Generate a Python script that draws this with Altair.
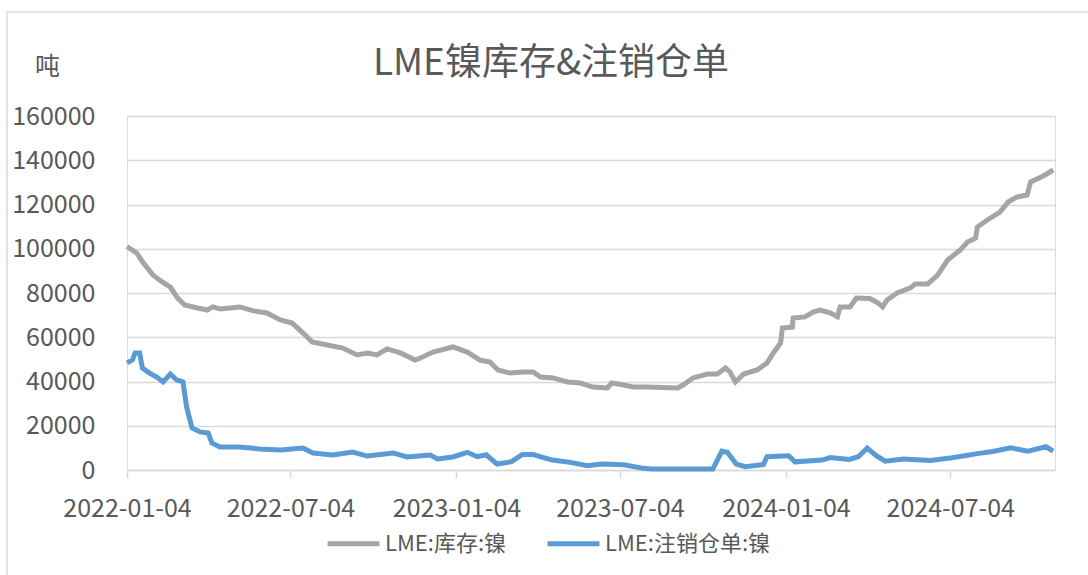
import altair as alt
import pandas as pd

# ---- data ----
stock_dates = [
    "2022-01-04", "2022-01-15", "2022-01-22", "2022-02-02", "2022-02-12", "2022-02-21",
    "2022-03-01", "2022-03-09", "2022-03-23", "2022-04-03", "2022-04-09", "2022-04-17",
    "2022-05-09", "2022-05-24", "2022-06-08", "2022-06-23", "2022-07-06", "2022-07-18",
    "2022-07-28", "2022-08-14", "2022-08-31", "2022-09-16", "2022-09-27", "2022-10-08",
    "2022-10-19", "2022-11-03", "2022-11-19", "2022-11-25", "2022-12-09", "2022-12-31",
    "2023-01-16", "2023-01-30", "2023-02-10", "2023-02-19", "2023-03-04", "2023-03-19",
    "2023-03-30", "2023-04-07", "2023-04-21", "2023-05-07", "2023-05-21", "2023-06-04",
    "2023-06-20", "2023-06-25", "2023-07-08", "2023-07-19", "2023-08-03", "2023-09-06",
    "2023-09-12", "2023-09-23", "2023-10-09", "2023-10-20", "2023-10-29", "2023-11-03",
    "2023-11-09", "2023-11-18", "2023-12-03", "2023-12-14", "2023-12-21", "2023-12-29",
    "2023-12-31", "2024-01-11", "2024-01-12", "2024-01-25", "2024-02-03", "2024-02-11",
    "2024-02-22", "2024-03-01", "2024-03-04", "2024-03-15", "2024-03-22", "2024-04-06",
    "2024-04-15", "2024-04-20", "2024-04-25", "2024-05-06", "2024-05-21", "2024-05-26",
    "2024-06-09", "2024-06-20", "2024-07-01", "2024-07-15", "2024-07-23", "2024-08-01",
    "2024-08-03", "2024-08-14", "2024-08-28", "2024-09-06", "2024-09-16", "2024-09-27",
    "2024-10-01", "2024-10-15", "2024-10-26",
]
stock_values = [
    101000, 98000, 93600, 88000, 85000, 82700,
    77700, 74600, 73200, 72300, 73700, 72800,
    73700, 71900, 71000, 67800, 66400, 61900,
    57900, 56500, 55100, 52000, 52900, 52000,
    54700, 52900, 49700, 50600, 53300, 55600,
    53300, 49700, 48800, 45200, 43800, 44300,
    44300, 42000, 41600, 39800, 39300, 37500,
    37100, 39300, 38400, 37500, 37500, 37100,
    38400, 41600, 43400, 43400, 46100, 44300,
    39800, 43400, 45200, 48400, 52900, 57400,
    64200, 64600, 68700, 69200, 71400, 72300,
    71000, 69200, 73700, 73700, 77700, 77500,
    75500, 73700, 76800, 80000, 82300, 84100,
    84100, 88100, 94900, 99400, 103000, 104800,
    109800, 113000, 116600, 121100, 123400, 124300,
    130200, 132900, 135600,
]

cancel_dates = [
    "2022-01-04", "2022-01-10", "2022-01-13", "2022-01-18", "2022-01-21", "2022-01-29",
    "2022-02-06", "2022-02-13", "2022-02-21", "2022-02-28", "2022-03-07", "2022-03-11",
    "2022-03-17", "2022-03-26", "2022-04-04", "2022-04-08", "2022-04-17", "2022-05-09",
    "2022-05-31", "2022-06-23", "2022-07-18", "2022-07-29", "2022-08-20", "2022-09-11",
    "2022-09-27", "2022-10-26", "2022-11-10", "2022-12-06", "2022-12-14", "2022-12-31",
    "2023-01-16", "2023-01-27", "2023-02-06", "2023-02-18", "2023-03-06", "2023-03-18",
    "2023-03-30", "2023-04-20", "2023-05-10", "2023-05-29", "2023-06-13", "2023-07-08",
    "2023-07-28", "2023-08-08", "2023-10-15", "2023-10-25", "2023-10-31", "2023-11-10",
    "2023-11-20", "2023-12-10", "2023-12-14", "2024-01-07", "2024-01-14", "2024-02-13",
    "2024-02-22", "2024-03-14", "2024-03-24", "2024-04-03", "2024-04-13", "2024-04-23",
    "2024-05-13", "2024-06-12", "2024-07-06", "2024-08-05", "2024-08-20", "2024-09-09",
    "2024-09-28", "2024-10-18", "2024-10-26",
]
cancel_values = [
    48400, 49700, 52900, 52900, 46100, 43800,
    42000, 39800, 43400, 40700, 39800, 28500,
    19000, 17200, 16700, 12200, 10400, 10400,
    9500, 9000, 9900, 7700, 6800, 8100,
    6300, 7700, 5900, 6800, 5000, 5900,
    8000, 6000, 6900, 2700, 3750, 7000,
    7000, 4500, 3450, 1950, 2700, 2400,
    900, 500, 500, 8500, 8000, 2700,
    1500, 2500, 6000, 6450, 3700, 4500,
    5600, 4800, 6000, 9900, 6500, 4000,
    5000, 4300, 5500, 7500, 8400, 10000,
    8500, 10500, 8500,
]

series_names = ["LME:库存:镍", "LME:注销仓单:镍"]
series_colors = ["#a5a5a5", "#5b9bd5"]
x_tick_dates = ["2022-01-04", "2022-07-04", "2023-01-04", "2023-07-04", "2024-01-04", "2024-07-04"]
x_domain = ["2022-01-04", "2024-10-28"]
y_ticks = [0, 20000, 40000, 60000, 80000, 100000, 120000, 140000, 160000]

title_text = "LME镍库存&注销仓单"
unit_text = "吨"

# ---- build table ----
df = pd.concat([
    pd.DataFrame({"date": stock_dates, "value": stock_values, "series": series_names[0]}),
    pd.DataFrame({"date": cancel_dates, "value": cancel_values, "series": series_names[1]}),
])


def dt(s):
    y, m, d = (int(p) for p in s.split("-"))
    return alt.DateTime(year=y, month=m, date=d, utc=True)


FONT = "Noto Sans CJK SC"
TXT = "#595959"
GRID = "#d9d9d9"

lines = alt.Chart(df).mark_line(strokeWidth=5, interpolate="linear").encode(
    x=alt.X(
        "date:T",
        scale=alt.Scale(type="utc", domain=[dt(s) for s in x_domain]),
        axis=alt.Axis(
            values=[dt(s) for s in x_tick_dates],
            format="%Y-%m-%d",
            title=None,
            grid=False,
            domainColor=GRID,
            domainWidth=1.5,
            ticks=True,
            tickColor=GRID,
            tickWidth=1.5,
            tickSize=8,
            labelFlush=False,
            labelOverlap=False,
            labelFont=FONT,
            labelFontSize=25,
            labelColor=TXT,
            labelPadding=18,
        ),
    ),
    y=alt.Y(
        "value:Q",
        scale=alt.Scale(domain=[0, 160000], nice=False, zero=True),
        axis=alt.Axis(
            values=y_ticks,
            format="d",
            title=unit_text,
            titleAngle=0,
            titleX=-80,
            titleY=-50,
            titleAlign="center",
            titleBaseline="middle",
            titleFont=FONT,
            titleFontSize=25,
            titleFontWeight="normal",
            titleColor=TXT,
            domain=False,
            ticks=False,
            grid=True,
            gridColor=GRID,
            gridWidth=1.5,
            labelFont=FONT,
            labelFontSize=25,
            labelColor=TXT,
            labelPadding=32,
        ),
    ),
    color=alt.Color(
        "series:N",
        scale=alt.Scale(domain=series_names, range=series_colors),
        legend=alt.Legend(
            title=None,
            orient="none",
            direction="horizontal",
            legendX=198,
            legendY=399,
            symbolType="stroke",
            symbolSize=2700,
            symbolStrokeWidth=5,
            labelFont=FONT,
            labelFontSize=22,
            labelColor=TXT,
            labelOffset=3,
            labelLimit=400,
            columnPadding=30,
            padding=0,
        ),
    ),
)

frame = alt.Chart(alt.Data(values=[{"k": 1}])).mark_rect(
    fill="white", fillOpacity=0, stroke=GRID, strokeWidth=1.5
).encode(
    x=alt.value(-120), x2=alt.value(975), y=alt.value(-104), y2=alt.value(470)
)

chart = alt.layer(frame, lines).properties(
    width=928,
    height=354,
    title=alt.TitleParams(
        text=title_text,
        font=FONT,
        fontSize=37,
        fontWeight="normal",
        color=TXT,
        anchor="middle",
        frame="group",
        dx=-40,
        offset=-72,
    ),
    autosize=alt.AutoSizeParams(type="none"),
    padding={"left": 127, "top": 116, "right": 33, "bottom": 105},
).configure_view(stroke=None).configure(background="white")

chart.save("out.html", embed_options={"renderer": "svg", "actions": False})
